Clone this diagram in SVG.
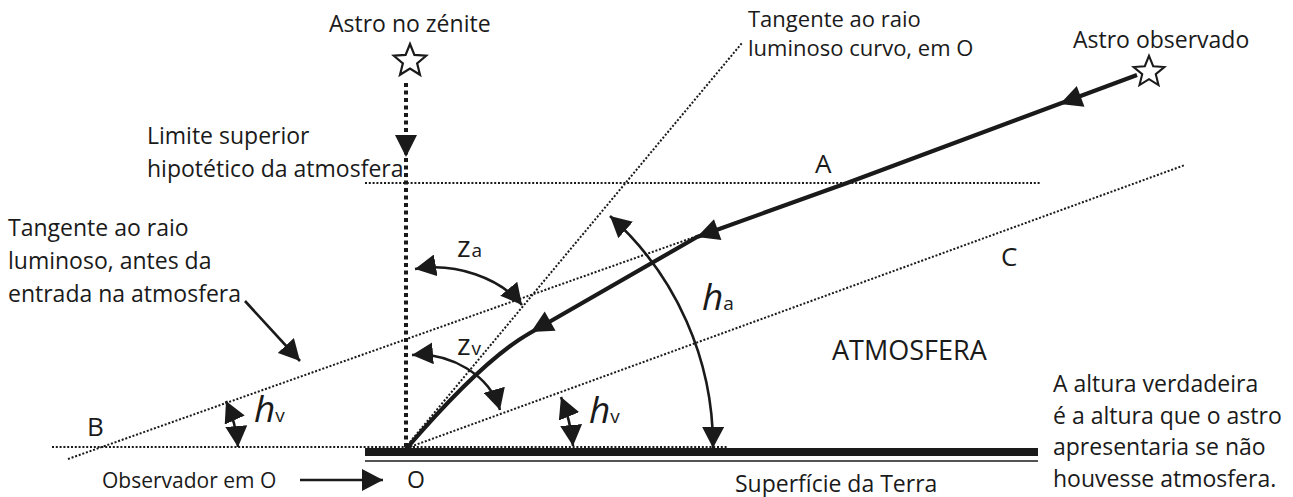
<svg xmlns="http://www.w3.org/2000/svg" width="1293" height="497" viewBox="0 0 1293 497">
<defs>
<style>
text{font-family:"Open Sans","Noto Sans",sans-serif;fill:#1a1a1a;font-size:23px}
.dot{fill:none;stroke:#1a1a1a;stroke-width:2;stroke-dasharray:2 1.8}
.arc{fill:none;stroke:#1a1a1a;stroke-width:2.6;marker-start:url(#ah);marker-end:url(#ah)}
.one{fill:none;stroke:#1a1a1a;stroke-width:2.6;marker-end:url(#ah)}
.it{font-style:italic;font-size:37px}
.sub{font-size:19px;font-style:normal}
.zz{font-size:29px}
.lbl{font-size:26px}
</style>
<marker id="ah" viewBox="-21 -11 21 22" refX="0" refY="0" markerWidth="21" markerHeight="22" markerUnits="userSpaceOnUse" orient="auto-start-reverse"><path d="M0,0 L-21,-11 L-21,11 Z" fill="#1a1a1a"/></marker>
<path id="head" d="M0,0 L-22,-11 L-22,11 Z" fill="#1a1a1a"/>
<path id="star" d="M0,-17 L4.41,-6.07 L16.17,-5.25 L7.13,2.32 L9.99,13.75 L0,7.5 L-9.99,13.75 L-7.13,2.32 L-16.17,-5.25 L-4.41,-6.07 Z" fill="#fff" stroke="#1a1a1a" stroke-width="2.2" stroke-linejoin="miter"/>
</defs>
<rect width="1293" height="497" fill="#fff"/>

<g id="guides">
<line class="dot" x1="52" y1="447" x2="727" y2="447"/>
<line class="dot" x1="365" y1="183" x2="1040" y2="183"/>
<line class="dot" x1="68" y1="459" x2="847" y2="183"/>
<line class="dot" x1="407" y1="448" x2="1185" y2="165"/>
<line class="dot" x1="405" y1="448" x2="742" y2="43"/>
</g>

<g id="ground">
<rect x="365" y="448" width="673" height="8" fill="#1a1a1a"/>
<line x1="365" y1="461" x2="1038" y2="461" stroke="#1a1a1a" stroke-width="1.5"/>
</g>

<g id="connectors">
<line x1="406" y1="83" x2="406" y2="448" stroke="#1a1a1a" stroke-width="4" stroke-dasharray="4 3.5"/>
<use href="#head" transform="translate(406,157) rotate(90)"/>
<path d="M1137,75 L847,183 L697,237 L530,333 C495,353 450,398 407,448" fill="none" stroke="#1a1a1a" stroke-width="4.2" stroke-linejoin="round"/>
<use href="#head" transform="translate(1060,104) rotate(159.6)"/>
<use href="#head" transform="translate(697,237) rotate(160.2)"/>
<use href="#head" transform="translate(531,332) rotate(150.4)"/>
<path class="arc" d="M415,269 C455,262 500,278 522,305"/>
<path class="arc" d="M412,355 C450,352 490,375 500,410"/>
<path class="arc" d="M610,216 A309,309 0 0 1 713,448"/>
<path class="arc" d="M226,401 A137,137 0 0 1 238,447"/>
<path class="arc" d="M561,397 A167,167 0 0 1 573,446"/>
<path class="one" d="M245,301 L300,361"/>
<path class="one" d="M300,480 L383,480"/>
</g>

<g id="zenith-star">
<use href="#star" transform="translate(410,61)"/>
<text x="329" y="32">Astro no zénite</text>
</g>
<g id="observed-star">
<use href="#star" transform="translate(1149,72) scale(0.95)"/>
<text x="1073" y="48">Astro observado</text>
</g>
<g id="tangent-curve-label">
<text x="748" y="27" style="font-size:22px">Tangente ao raio</text>
<text x="748" y="56" style="font-size:22px">luminoso curvo, em O</text>
</g>
<g id="upper-limit-label">
<text x="147" y="144">Limite superior</text>
<text x="147" y="177">hipotético da atmosfera</text>
</g>
<g id="tangent-before-label">
<text x="8" y="236">Tangente ao raio</text>
<text x="8" y="269">luminoso, antes da</text>
<text x="8" y="302">entrada na atmosfera</text>
</g>
<g id="points">
<text class="lbl" x="815" y="173">A</text>
<text class="lbl" x="87" y="436">B</text>
<text class="lbl" x="1001" y="266">C</text>
<text x="407" y="488">O</text>
</g>
<g id="angles">
<text x="457" y="257"><tspan class="zz">z</tspan><tspan class="sub" dx="1">a</tspan></text>
<text x="457" y="355"><tspan class="zz">z</tspan><tspan class="sub" dx="1">v</tspan></text>
<text x="702" y="310"><tspan class="it">h</tspan><tspan class="sub">a</tspan></text>
<text x="254" y="422"><tspan class="it">h</tspan><tspan class="sub">v</tspan></text>
<text x="589" y="423"><tspan class="it">h</tspan><tspan class="sub">v</tspan></text>
</g>
<g id="atmosphere">
<text x="832" y="360" style="font-size:27px">ATMOSFERA</text>
</g>
<g id="note">
<text x="1053" y="392">A altura verdadeira</text>
<text x="1053" y="424">é a altura que o astro</text>
<text x="1053" y="455">apresentaria se não</text>
<text x="1053" y="487">houvesse atmosfera.</text>
</g>
<g id="observer">
<text x="102" y="488" style="font-size:21px">Observador em O</text>
</g>
<g id="surface">
<text x="735" y="492">Superfície da Terra</text>
</g>
</svg>
